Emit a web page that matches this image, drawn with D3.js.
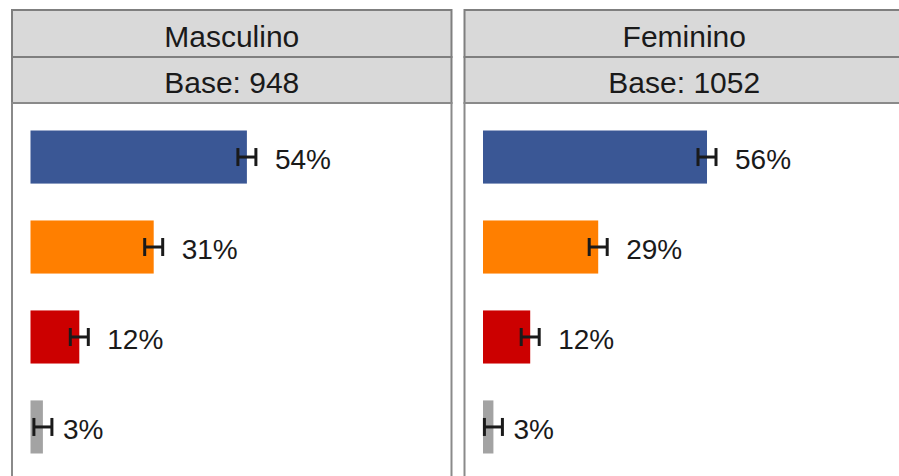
<!DOCTYPE html>
<html>
<head>
<meta charset="utf-8">
<script src="https://cdn.jsdelivr.net/npm/d3@7/dist/d3.min.js"></script>
<style>
  body { margin: 0; background: #fff; overflow: hidden; }
  text { font-family: "Liberation Sans", Arial, sans-serif; fill: #1a1a1a; }
</style>
</head>
<body>
<svg id="chart" width="899" height="476"></svg>
<script>
// facets and their bases
var panels = ["Masculino", "Feminino"];
var bases = [948, 1052];

// answer categories (the axis labels fall outside the crop)
var categories = ["cat1", "cat2", "cat3", "cat4"];
var colors = ["#3a5795", "#ff7f00", "#cc0000", "#a3a3a3"];

// percentages per facet
var masculino = [54.1, 30.8, 12.2, 3.1];
var feminino = [56.0, 28.8, 11.8, 2.6];

// half width of the error bars, in percentage points
var errMasculino = [2.25, 2.25, 2.25, 2.25];
var errFeminino = [2.25, 2.25, 2.25, 2.25];

var values = [masculino, feminino];
var errors = [errMasculino, errFeminino];

var svg = d3.select("#chart");

var panelX = d3.scaleBand()
    .domain(panels)
    .range([12, 904])
    .paddingInner(13 / 452);

var stripTop = 10, stripH = 47, bodyTop = 103;

var x = d3.scaleLinear().domain([0, 100]).range([18.5, 418.5]);
var y = d3.scaleBand()
    .domain(categories)
    .range([130.5, 453.5])
    .paddingInner(0.41);

panels.forEach(function(name, p) {
    var g = svg.append("g")
        .attr("transform", "translate(" + panelX(name) + ",0)");
    var w = panelX.bandwidth();

    // strips
    g.append("rect")
        .attr("x", 0).attr("y", stripTop)
        .attr("width", w).attr("height", stripH)
        .attr("fill", "#d9d9d9").attr("stroke", "#7f7f7f").attr("stroke-width", 2);
    g.append("rect")
        .attr("x", 0).attr("y", stripTop + stripH)
        .attr("width", w).attr("height", bodyTop - stripTop - stripH)
        .attr("fill", "#d9d9d9").attr("stroke", "#7f7f7f").attr("stroke-width", 2);
    g.append("text")
        .attr("x", w / 2).attr("y", 47)
        .attr("text-anchor", "middle")
        .style("font-size", "30px")
        .text(name);
    g.append("text")
        .attr("x", w / 2).attr("y", 93)
        .attr("text-anchor", "middle")
        .style("font-size", "30px")
        .text("Base: " + bases[p]);

    // panel body border
    g.append("rect")
        .attr("x", 0).attr("y", bodyTop)
        .attr("width", w).attr("height", 400)
        .attr("fill", "none").attr("stroke", "#8a8a8a").attr("stroke-width", 2);

    var rows = categories.map(function(c, i) {
        return { cat: c, v: values[p][i], e: errors[p][i], color: colors[i] };
    });

    g.selectAll(".bar")
        .data(rows)
        .enter().append("rect")
        .attr("class", "bar")
        .attr("x", x(0))
        .attr("y", function(d) { return y(d.cat); })
        .attr("width", function(d) { return x(d.v) - x(0); })
        .attr("height", y.bandwidth())
        .attr("fill", function(d) { return d.color; });

    var eb = g.selectAll(".err")
        .data(rows)
        .enter().append("g")
        .attr("class", "err")
        .attr("stroke", "#1a1a1a").attr("stroke-width", 3);
    eb.append("line")
        .attr("x1", function(d) { return x(d.v - d.e); })
        .attr("x2", function(d) { return x(d.v + d.e); })
        .attr("y1", function(d) { return y(d.cat) + y.bandwidth() / 2; })
        .attr("y2", function(d) { return y(d.cat) + y.bandwidth() / 2; });
    [-1, 1].forEach(function(s) {
        eb.append("line")
            .attr("x1", function(d) { return x(d.v + s * d.e); })
            .attr("x2", function(d) { return x(d.v + s * d.e); })
            .attr("y1", function(d) { return y(d.cat) + y.bandwidth() / 2 - 9; })
            .attr("y2", function(d) { return y(d.cat) + y.bandwidth() / 2 + 9; });
    });

    g.selectAll(".lbl")
        .data(rows)
        .enter().append("text")
        .attr("class", "lbl")
        .attr("x", function(d) { return x(d.v + d.e) + (d.v < 5 ? 11 : 19); })
        .attr("y", function(d) { return y(d.cat) + y.bandwidth() / 2; })
        .attr("dy", "0.44em")
        .style("font-size", "28px")
        .text(function(d) { return Math.round(d.v) + "%"; });
});
</script>
</body>
</html>
